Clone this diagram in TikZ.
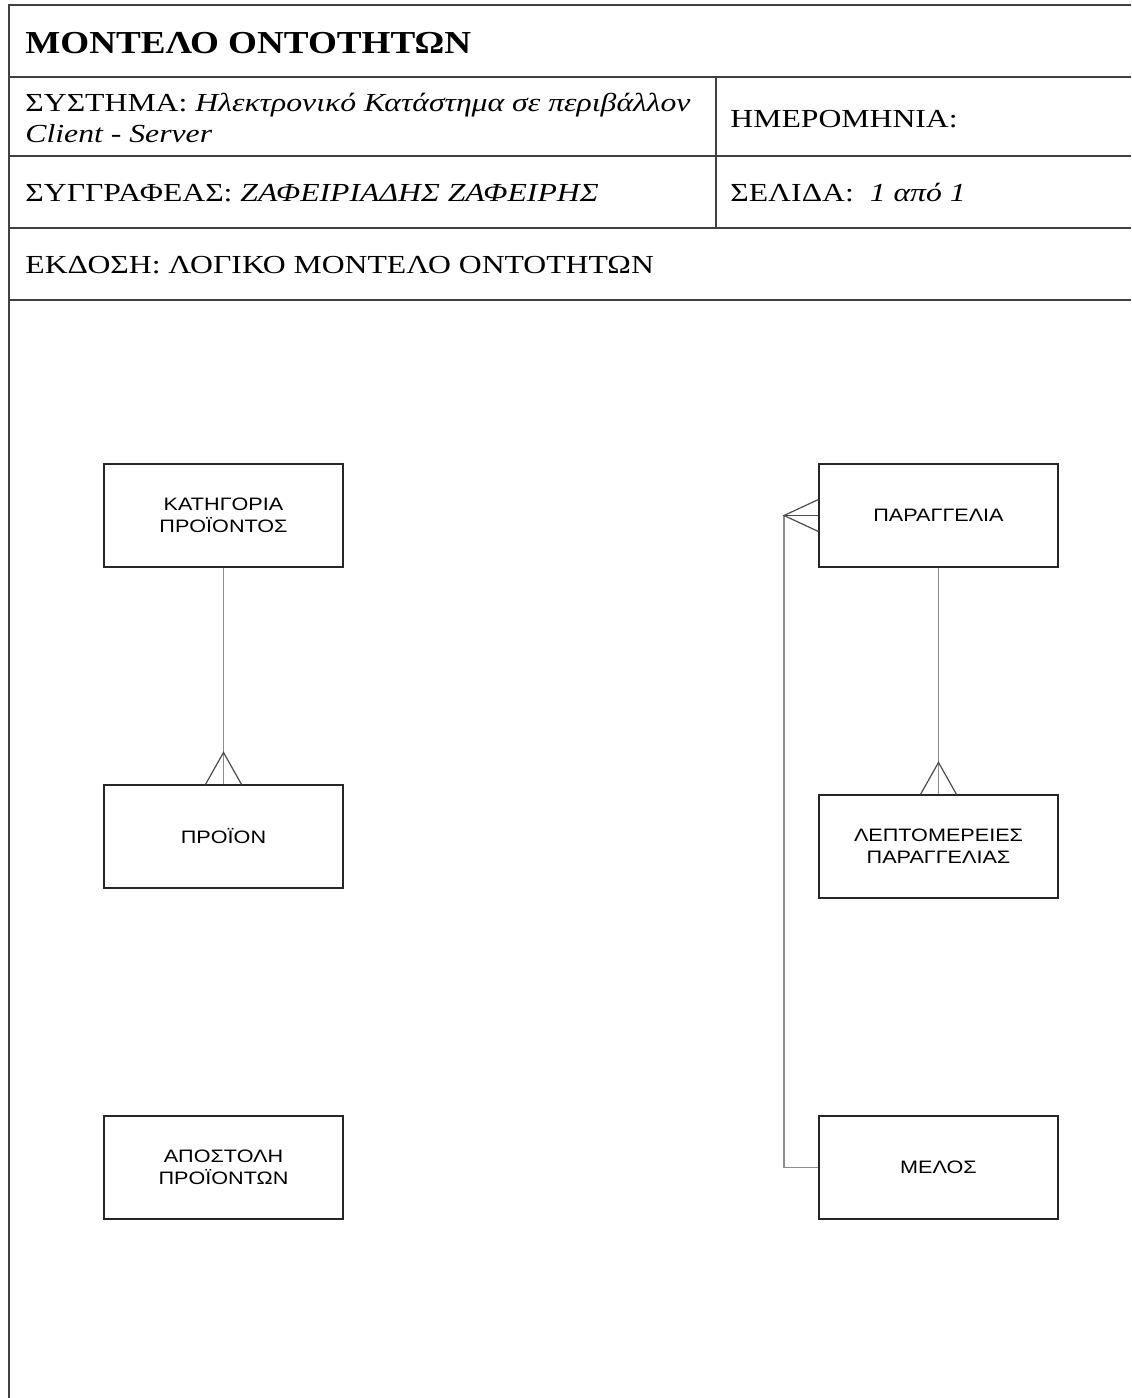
\documentclass[tikz,border=0pt]{standalone}
\usepackage{fontspec}
\setmainfont{Liberation Serif}[FakeStretch=1.22]
\newfontfamily\titlefont{Liberation Serif}[FakeStretch=1.16]
\newfontfamily\boxfont{Liberation Sans}[FakeStretch=1.2]
\begin{document}
\begin{tikzpicture}[x=0.5pt,y=-0.5pt,
  frame/.style={draw=black!75,line width=1pt},
  hdr/.style={anchor=base west,inner sep=0pt,font=\fontsize{13}{15.5}\selectfont},
  ent/.style={draw=black!85,line width=0.6pt,minimum width=119.5pt,minimum height=51.5pt,inner sep=0pt,align=center,font=\boxfont\fontsize{9}{11}\selectfont},
  conn/.style={draw=black!45,line width=0.7pt},
  crow/.style={draw=black!70,line width=0.6pt}]
\useasboundingbox (0,0) rectangle (1131,1398);
% frame
\draw[frame] (9,1398) -- (9,5) -- (1131,5);
\draw[frame] (9,77) -- (1131,77);
\draw[frame] (9,156) -- (1131,156);
\draw[frame] (9,228) -- (1131,228);
\draw[frame] (9,300) -- (1131,300);
\draw[frame,line width=0.6pt] (716,77) -- (716,228);
% header texts
\node[hdr,font=\titlefont\bfseries\fontsize{16}{19}\selectfont] (title) at (25,53) {ΜΟΝΤΕΛΟ ΟΝΤΟΤΗΤΩΝ};
\node[hdr] (sys) at (25,111) {ΣΥΣΤΗΜΑ: \textit{Ηλεκτρονικό Κατάστημα σε περιβάλλον}};
\node[hdr] (sys2) at (25,142) {\textit{Client - Server}};
\node[hdr] (date) at (730,127) {ΗΜΕΡΟΜΗΝΙΑ:};
\node[hdr] (auth) at (25,201) {ΣΥΓΓΡΑΦΕΑΣ: \textit{ΖΑΦΕΙΡΙΑΔΗΣ ΖΑΦΕΙΡΗΣ}};
\node[hdr] (page) at (730,201) {ΣΕΛΙΔΑ:\ \ \textit{1 από 1}};
\node[hdr] (ver) at (25,273) {ΕΚΔΟΣΗ: ΛΟΓΙΚΟ ΜΟΝΤΕΛΟ ΟΝΤΟΤΗΤΩΝ};
% entities
\node[ent] (cat) at (223.5,515.5) {ΚΑΤΗΓΟΡΙΑ\\ΠΡΟΪΟΝΤΟΣ};
\node[ent] (prod) at (223.5,836.5) {ΠΡΟΪΟΝ};
\node[ent] (ship) at (223.5,1167.5) {ΑΠΟΣΤΟΛΗ\\ΠΡΟΪΟΝΤΩΝ};
\node[ent] (ord) at (938.5,515.5) {ΠΑΡΑΓΓΕΛΙΑ};
\node[ent] (det) at (938.5,846.5) {ΛΕΠΤΟΜΕΡΕΙΕΣ\\ΠΑΡΑΓΓΕΛΙΑΣ};
\node[ent] (mem) at (938.5,1167.5) {ΜΕΛΟΣ};
% connectors
\draw[conn] (cat.south) -- (prod.north);
\draw[crow] ([xshift=-9pt]prod.north) -- ([yshift=16pt]prod.north) -- ([xshift=9pt]prod.north);
\draw[conn] (ord.south) -- (det.north);
\draw[crow] ([xshift=-9pt]det.north) -- ([yshift=16pt]det.north) -- ([xshift=9pt]det.north);
\coordinate (bend) at (784,515.5);
\draw[conn] (mem.west) -| (bend);
\draw[crow] (bend) -- (ord.west);
\draw[crow] ([yshift=8pt]ord.west) -- (bend) -- ([yshift=-8pt]ord.west);
\end{tikzpicture}
\end{document}
